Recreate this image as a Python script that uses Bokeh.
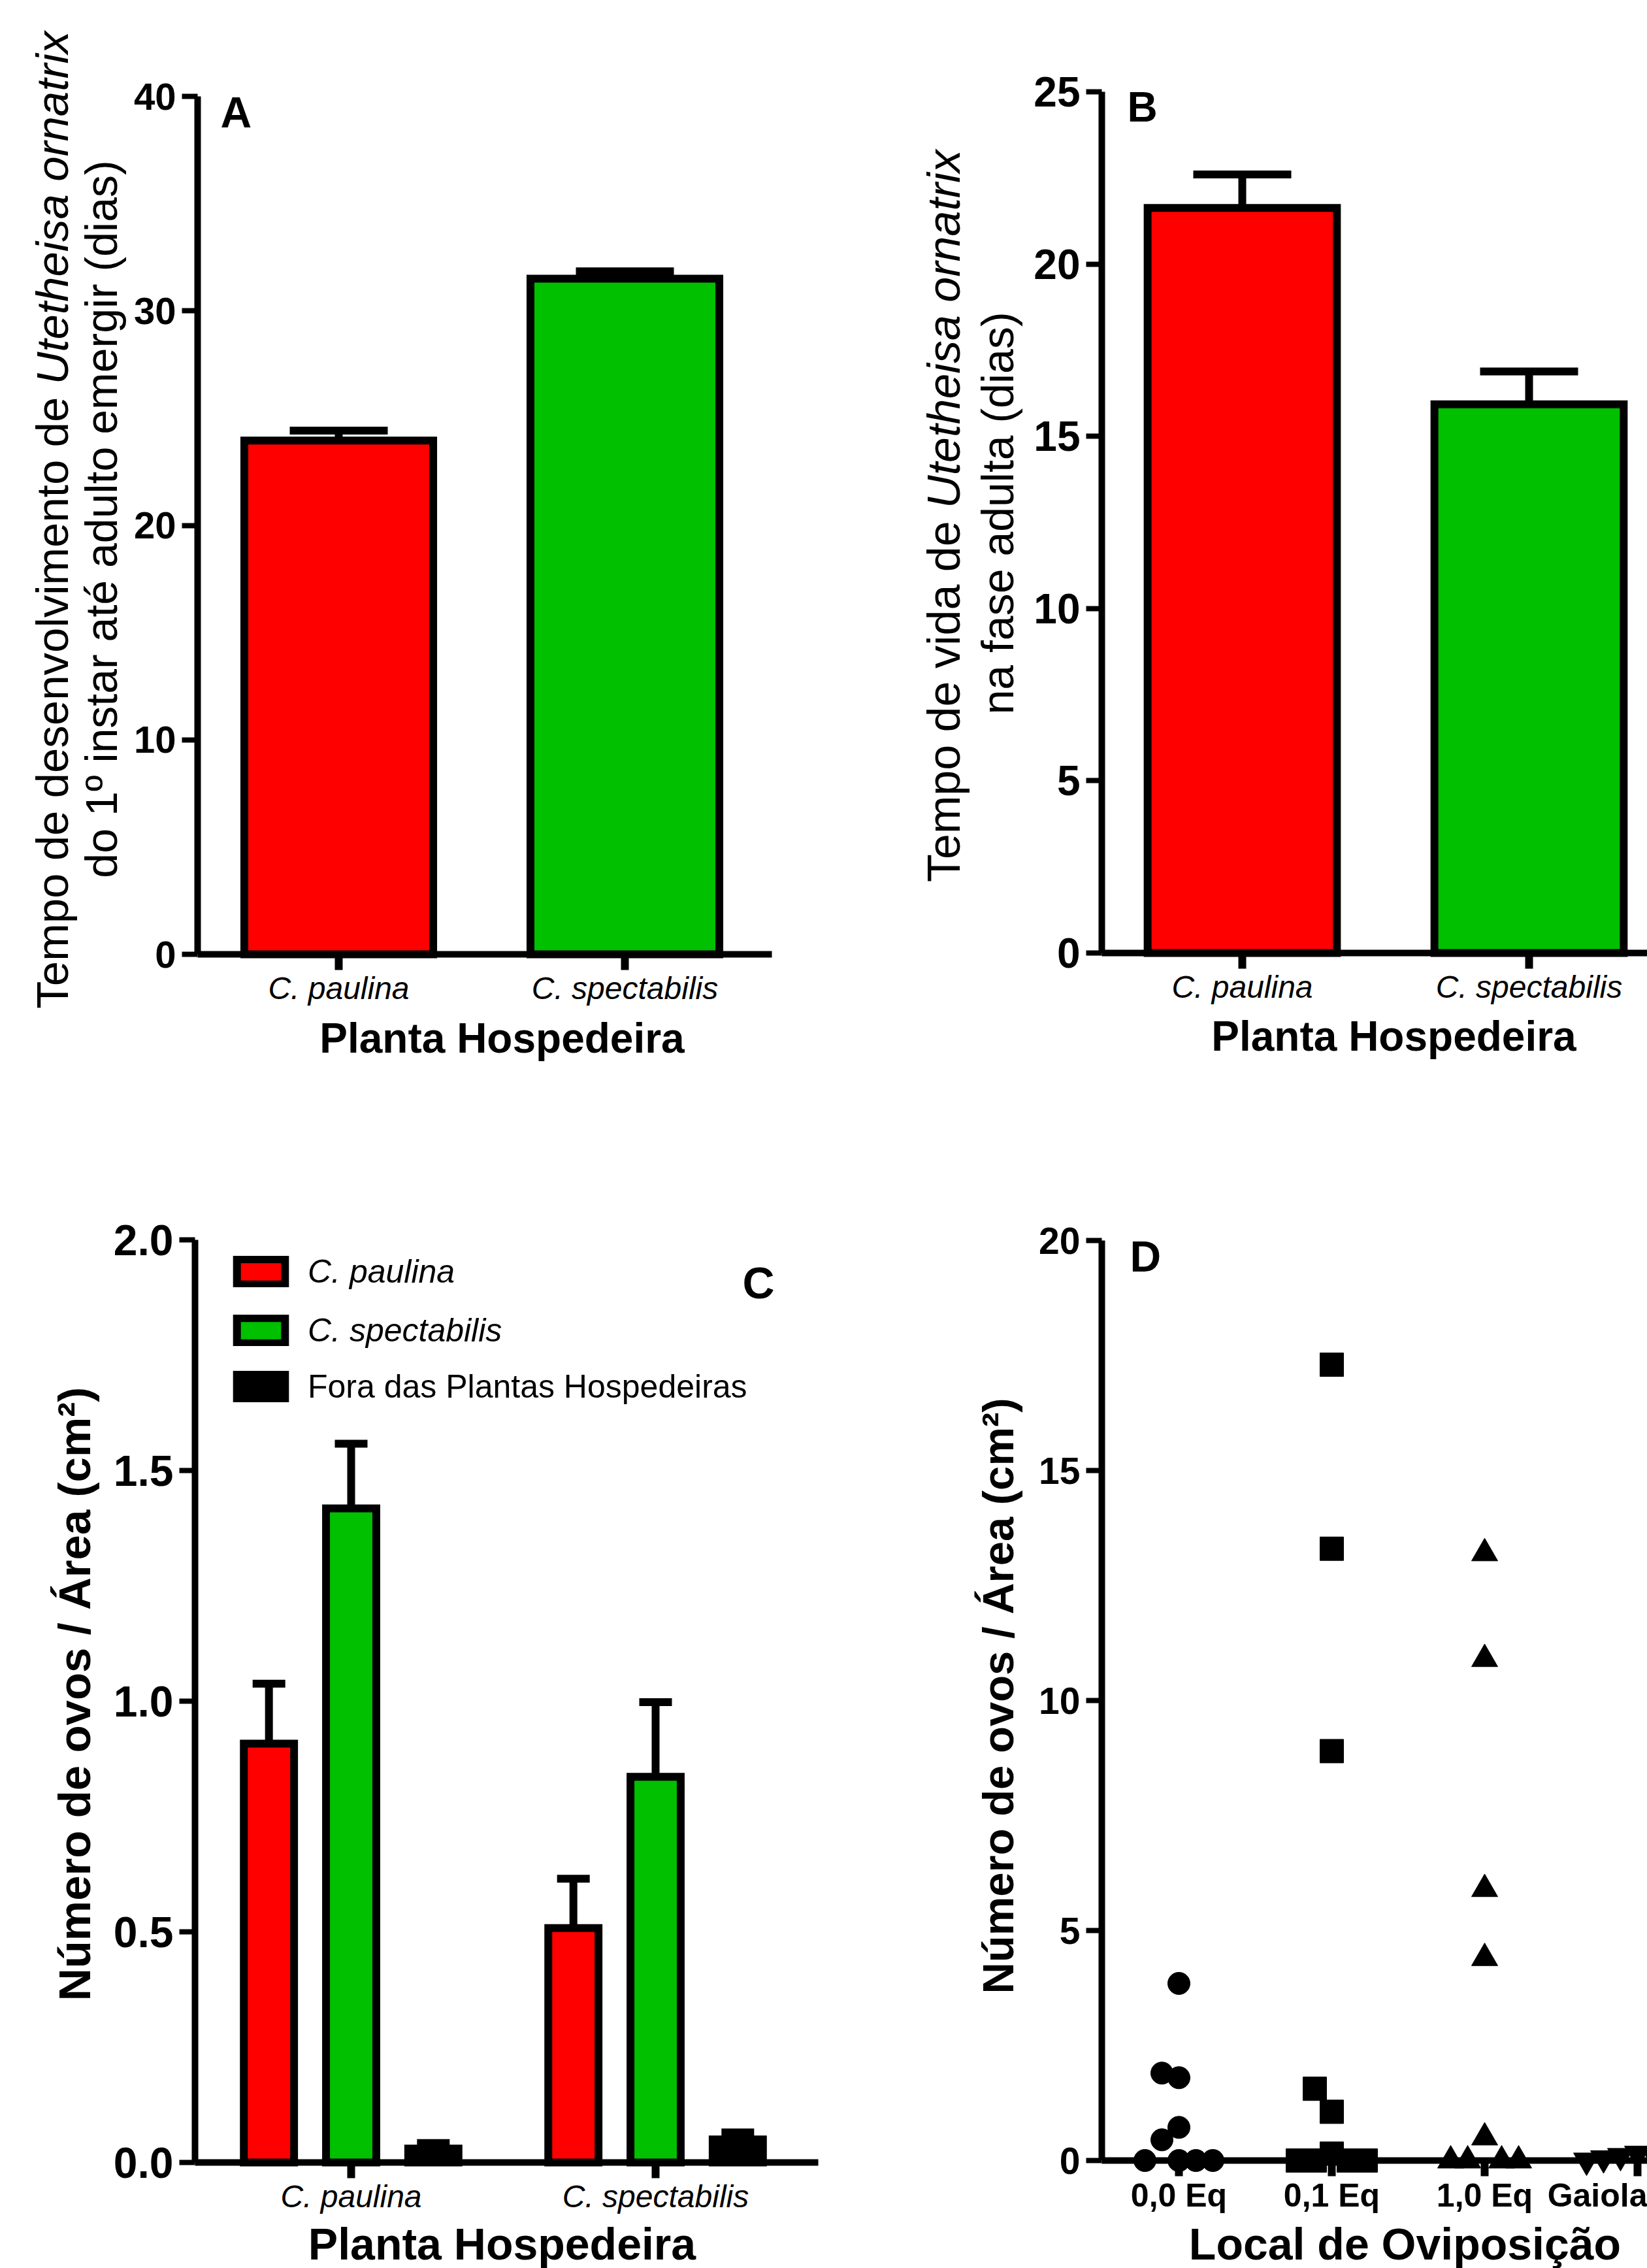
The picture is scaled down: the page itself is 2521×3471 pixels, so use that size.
from math import pi
from bokeh.plotting import figure
from bokeh.models import (ColumnDataSource, Range1d, FixedTicker, Label, Whisker,
                          TeeHead, Legend, LegendItem, NumeralTickFormatter)
from bokeh.layouts import row, column
from bokeh.embed import file_html
from bokeh.resources import INLINE

FONT = "Liberation Sans"
RED = "#FF0000"
GREEN = "#00C000"
BLACK = "#000000"

# ---------------- data ----------------
hosts = ["C. paulina", "C. spectabilis"]
# A: development time (days), mean and SEM
dev_days = [23.95, 31.5]
dev_sem = [0.47, 0.34]
# B: adult life span (days)
adult_days = [21.63, 15.93]
adult_sem = [0.97, 0.95]
# C: eggs / area per oviposition site, grouped by host plant
egg_series = ["C. paulina", "C. spectabilis", "Fora das Plantas Hospedeiras"]
eggs_on_paulina = [0.908, 0.508]
eggs_on_paulina_sem = [0.13, 0.107]
eggs_on_spectabilis = [1.418, 0.836]
eggs_on_spectabilis_sem = [0.14, 0.162]
eggs_outside = [0.03, 0.05]
eggs_outside_sem = [0.012, 0.015]
# D: eggs / area per oviposition site (individual points)
sites = ["0,0 Eq", "0,1 Eq", "1,0 Eq", "Gaiola"]
eggs_00 = [3.85, 1.8, 1.9, 0.72, 0.45, 0, 0, 0, 0]
eggs_01 = [17.3, 13.3, 8.9, 1.06, 1.56, 0.15, 0, 0, 0, 0]
eggs_10 = [13.2, 10.9, 5.9, 4.4, 0.5, 0, 0, 0, 0]
eggs_gaiola = [0.15, 0.1, 0.1, 0.05, 0, 0, 0]

# ---------------- helpers ----------------
AW = {' ': 278, 'T': 611, 'e': 556, 'm': 833, 'p': 556, 'o': 556, 'd': 556, 's': 500,
      'n': 556, 'v': 500, 'l': 222, 'i': 222, 't': 278, 'U': 722, 'h': 556, 'a': 556,
      'r': 333, 'x': 500}
MID = 0.32  # height of the em-box middle above the baseline, in em


def text_w(s):
    return sum(AW.get(c, 556) for c in s) / 1000.0


class Panel:
    """A figure whose frame fills its whole canvas; axes sit at fixed locations."""

    def __init__(self, ox, oy, w, h, xmap, ymap):
        self.ox, self.oy, self.w, self.h = ox, oy, w, h
        (dx1, px1), (dx2, px2) = xmap
        self.kx = (px2 - px1) / (dx2 - dx1)
        self.x0 = dx1 - (px1 - ox) / self.kx
        self.x1 = self.x0 + w / self.kx
        (dy1, py1), (dy2, py2) = ymap
        self.ky = (py1 - py2) / (dy2 - dy1)
        self.y0 = dy1 - (oy + h - py1) / self.ky
        self.y1 = self.y0 + h / self.ky
        p = figure(width=w, height=h, x_range=Range1d(self.x0, self.x1),
                   y_range=Range1d(self.y0, self.y1), output_backend="svg",
                   toolbar_location=None, min_border=0)
        p.outline_line_color = None
        p.grid.visible = False
        p.background_fill_color = "white"
        p.border_fill_color = "white"
        self.p = p

    def dx(self, px):
        return self.x0 + (px - self.ox) / self.kx

    def sx(self, px):
        return px - self.ox

    def sy(self, py):
        return self.oy + self.h - py

    def axes(self, yaxis_px, ybounds, yticks, ysize, xticks, xlabels, xsize, xstyle,
             xend_px=None):
        p = self.p
        ax = p.yaxis[0]
        ax.fixed_location = self.dx(yaxis_px)
        ax.bounds = ybounds
        ax.ticker = FixedTicker(ticks=yticks)
        ax.axis_line_width = 10
        ax.axis_line_color = "black"
        ax.major_tick_line_width = 8
        ax.major_tick_line_color = "black"
        ax.major_tick_out = 24
        ax.major_tick_in = 0
        ax.minor_tick_line_color = None
        ax.major_label_text_font = FONT
        ax.major_label_text_font_size = f"{ysize}px"
        ax.major_label_text_font_style = "bold"
        ax.major_label_text_color = "black"
        ax.major_label_standoff = 9
        bx = p.xaxis[0]
        bx.fixed_location = ybounds[0]
        xend = self.x1 if xend_px is None else self.dx(xend_px)
        bx.bounds = (self.dx(yaxis_px), xend)
        bx.ticker = FixedTicker(ticks=xticks)
        bx.major_label_overrides = {t: l for t, l in zip(xticks, xlabels)}
        bx.axis_line_width = 10
        bx.axis_line_color = "black"
        bx.major_tick_line_width = 12
        bx.major_tick_line_color = "black"
        bx.major_tick_out = 24
        bx.major_tick_in = 0
        bx.minor_tick_line_color = None
        bx.major_label_text_font = FONT
        bx.major_label_text_font_size = f"{xsize}px"
        bx.major_label_text_font_style = xstyle
        bx.major_label_text_color = "black"
        bx.major_label_standoff = 1

    def label(self, px, py, text, size, style="normal", angle=0.0, align="left"):
        # (px, py): page position of the text baseline; anchor at the em middle
        if angle:
            ax, ay = px - MID * size, py
        else:
            ax, ay = px, py - MID * size
        self.p.add_layout(Label(x=self.sx(ax), y=self.sy(ay), x_units="screen",
                                y_units="screen", text=text, text_font=FONT,
                                text_font_size=f"{size}px", text_font_style=style,
                                text_color="black", angle=angle, text_align=align,
                                text_baseline="middle"))

    def split_title(self, px, cy, seg1, seg2, size):
        w1 = text_w(seg1) * size
        sp = text_w(" ") * size
        w2 = text_w(seg2) * size
        start = cy + (w1 + sp + w2) / 2   # page y of the text start (bottom)
        self.label(px, start - w1, seg1, size, angle=pi / 2, align="right")
        self.label(px, start - w1 - sp, seg2, size, style="italic", angle=pi / 2,
                   align="left")


def bars_with_sem(p, xs, means, sems, colors, width, cap):
    src = ColumnDataSource(dict(x=xs, top=means, color=colors,
                                lower=means,
                                upper=[m + s for m, s in zip(means, sems)]))
    w = Whisker(source=src, base="x", lower="lower", upper="upper",
                dimension="height", line_color="black", line_width=12,
                upper_head=TeeHead(size=cap, line_width=12, line_color="black"),
                lower_head=None)
    p.add_layout(w)
    r = p.vbar(x="x", top="top", bottom=0, width=width, source=src,
               fill_color="color", line_color="black", line_width=12,
               line_join="miter")
    return r


def swarm(values, center, step, thr):
    order = [0]
    for k in range(1, 12):
        order += [-k, k]
    placed = []
    xs = []
    for v in values:
        for k in order:
            if all(not (pk == k and abs(pv - v) < thr) for pk, pv in placed):
                break
        placed.append((k, v))
        xs.append(center + k * step)
    return xs


host_x = [i + 1 for i in range(len(hosts))]
site_x = [i + 1 for i in range(len(sites))]

# ---------------- panel A ----------------
A = Panel(0, 0, 1300, 1750, ((1, 518), (2, 956)), ((0, 1460), (40, 147)))
A.axes(302, (0, 40), [0, 10, 20, 30, 40], 58, host_x, hosts, 48, "italic", 1181)
bars_with_sem(A.p, host_x, dev_days, dev_sem, [RED, GREEN], 0.66, 150)
A.split_title(102, 799, "Tempo de desenvolvimento de", "Utetheisa ornatrix", 69)
A.label(176, 794, "do 1º instar até adulto emergir (dias)", 68, angle=pi / 2,
        align="center")
A.label(768, 1609, "Planta Hospedeira", 64, style="bold", align="center")
A.label(337, 193, "A", 66, style="bold")

# ---------------- panel B ----------------
B = Panel(1300, 0, 1221, 1750, ((1, 1901), (2, 2340)), ((0, 1458), (25, 140)))
B.axes(1686, (0, 25), [0, 5, 10, 15, 20, 25], 64, host_x, hosts, 48, "italic")
bars_with_sem(B.p, host_x, adult_days, adult_sem, [RED, GREEN], 0.66, 150)
B.split_title(1467, 793, "Tempo de vida de", "Utetheisa ornatrix", 70)
B.label(1548, 785, "na fase adulta (dias)", 68, angle=pi / 2, align="center")
B.label(2133, 1606, "Planta Hospedeira", 64, style="bold", align="center")
B.label(1725, 184, "B", 64, style="bold")

# ---------------- panel C ----------------
C = Panel(0, 1750, 1300, 1721, ((1, 537), (2, 1003)), ((0, 3309), (2, 1897)))
C.axes(298, (0, 2), [0, 0.5, 1.0, 1.5, 2.0], 66, host_x, hosts, 48, "italic", 1252)
C.p.yaxis[0].formatter = NumeralTickFormatter(format="0.0")
off = 0.27
bw = 0.165
rC1 = bars_with_sem(C.p, [x - off for x in host_x], eggs_on_paulina,
                    eggs_on_paulina_sem, [RED] * 2, bw, 50)
rC2 = bars_with_sem(C.p, list(host_x), eggs_on_spectabilis,
                    eggs_on_spectabilis_sem, [GREEN] * 2, bw, 50)
rC3 = bars_with_sem(C.p, [x + off for x in host_x], eggs_outside,
                    eggs_outside_sem, [BLACK] * 2, bw, 50)
leg_common = dict(border_line_color=None, background_fill_alpha=0, padding=0,
                  margin=0, spacing=32, glyph_width=92, glyph_height=48,
                  label_standoff=26, label_height=40, label_text_font=FONT,
                  label_text_font_size="50px", label_text_color="black")
leg1 = Legend(items=[LegendItem(label=egg_series[0], renderers=[rC1]),
                     LegendItem(label=egg_series[1], renderers=[rC2])],
              location=(C.sx(353), C.sy(2065)), label_text_font_style="italic",
              **leg_common)
leg2 = Legend(items=[LegendItem(label=egg_series[2], renderers=[rC3])],
              location=(C.sx(353), C.sy(2151)), label_text_font_style="normal",
              **leg_common)
C.p.add_layout(leg1)
C.p.add_layout(leg2)
C.label(136, 2592, "Número de ovos / Área (cm²)", 69, style="bold", angle=pi / 2,
        align="center")
C.label(768, 3455, "Planta Hospedeira", 68, style="bold", align="center")
C.label(1136, 1984, "C", 68, style="bold")

# ---------------- panel D ----------------
D = Panel(1300, 1750, 1221, 1721, ((1, 1804), (2, 2038)), ((0, 3306), (20, 1898)))
D.axes(1686, (0, 20), [0, 5, 10, 15, 20], 57, site_x, sites, 50, "bold")
step = 26 / 234
thr = 0.55
for vals, cx, mk, sz in [(eggs_00, site_x[0], "circle", 34),
                         (eggs_01, site_x[1], "square", 36),
                         (eggs_10, site_x[2], "triangle", 40),
                         (eggs_gaiola, site_x[3], "inverted_triangle", 40)]:
    xs = swarm(vals, cx, step, thr)
    D.p.scatter(x=xs, y=vals, marker=mk, size=sz, fill_color="black",
                line_color="black", line_width=1)
D.label(1548, 2595, "Número de ovos / Área (cm²)", 67, style="bold", angle=pi / 2,
        align="center")
D.label(2150, 3455, "Local de Oviposição", 68, style="bold", align="center")
D.label(1729, 1944, "D", 66, style="bold")

layout = column(row(A.p, B.p), row(C.p, D.p))
open("out.html", "w").write(file_html(layout, INLINE, title="Utetheisa ornatrix"))
